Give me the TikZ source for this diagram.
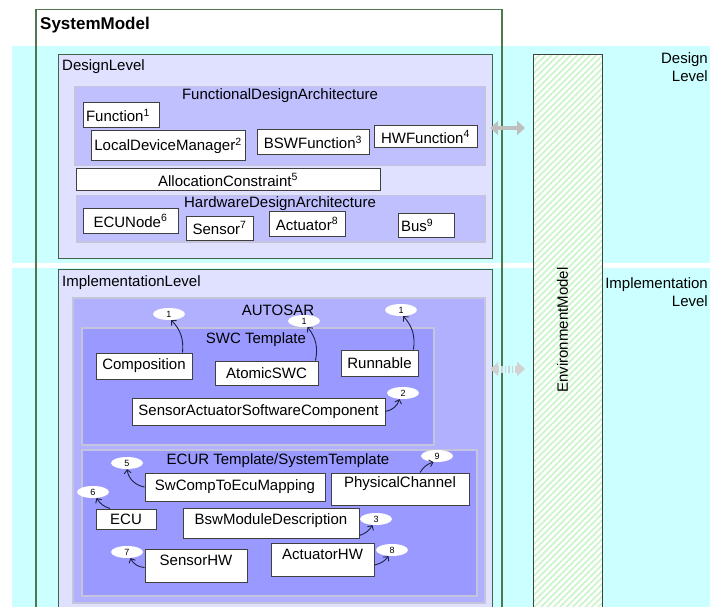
\documentclass[tikz,border=0pt]{standalone}
\usepackage{fontspec}
\setmainfont{Liberation Sans}
\usetikzlibrary{arrows.meta,patterns.meta,shapes.geometric}
\definecolor{bandcyan}{RGB}{204,255,255}
\definecolor{framegreen}{RGB}{80,120,80}
\definecolor{levelgreen}{RGB}{64,100,72}
\definecolor{levelfill}{RGB}{224,224,255}
\definecolor{areagray}{RGB}{196,196,220}
\definecolor{areafill}{RGB}{192,192,255}
\definecolor{autosarfill}{RGB}{176,176,255}
\definecolor{tmplfill}{RGB}{153,153,255}
\definecolor{boxgray}{RGB}{64,64,64}
\definecolor{refnavy}{RGB}{32,32,64}
\definecolor{linkgray}{RGB}{190,190,190}
\definecolor{hatchgreen}{RGB}{200,245,200}
\begin{document}
\begin{tikzpicture}[
        x=1pt, y=-1pt,
        font=\fontsize{15}{18}\selectfont,
        heading/.style={inner sep=0pt},
        level/.style={draw=levelgreen, line width=1.2pt, fill=levelfill, anchor=north west, inner sep=0pt},
        area/.style={draw=areagray, line width=1.5pt, anchor=north west, inner sep=0pt},
        wbox/.style={draw=boxgray, line width=1pt, fill=white, inner sep=1pt},
        lbox/.style={wbox, align=left},
        envbox/.style={draw=boxgray, line width=1pt, preaction={fill=white},
            pattern={Lines[angle=45,distance=4.5pt,line width=1.6pt]}, pattern color=hatchgreen,
            anchor=north west, inner sep=0pt},
        tag/.style={ellipse, fill=white, minimum width=32pt, minimum height=12pt, inner sep=0pt, font=\fontsize{9}{9}\selectfont},
        ref/.style={draw=refnavy, line width=0.9pt, -{Straight Barb[length=3.5pt,width=7pt]}},
        link/.style={draw=linkgray, line width=3.5pt, {Triangle[length=8pt,width=14pt]}-{Triangle[length=8pt,width=14pt]},
            shorten <=-3pt, shorten >=8pt},
        dottedlink/.style={link, draw=linkgray!70, line width=7pt, dash pattern=on 1.5pt off 2pt},
        ]
    \useasboundingbox (0,0) rectangle (710,607);
    \clip (0,0) rectangle (710,607);
    \fill[bandcyan] (12,46) rectangle (710,263);
    \fill[bandcyan] (12,268) rectangle (710,607);
    \node (sysmodel) [draw=framegreen, line width=1.5pt, anchor=north west, minimum width=466, minimum height=620, inner sep=0pt] at (35,9) {};
    \node (sysmodeltitle) [heading, anchor=west, font=\fontsize{17}{17}\selectfont\bfseries] at (40,25) {SystemModel};

    % design level
    \node (design) [level, minimum width=434, minimum height=204] at (58,54) {};
    \node (designtitle) [heading, anchor=west] at (62,67) {DesignLevel};
    \node (fda) [area, fill=areafill, minimum width=410, minimum height=79] at (74,86) {};
    \node (fdatitle) [heading] at (280,96) {FunctionalDesignArchitecture};
    \node (func) [lbox, text width=70, minimum width=76, minimum height=25] at (121,115.5) {Function\textsuperscript{1}};
    \node (ldm) [wbox, minimum width=154, minimum height=30] at (168,146) {LocalDeviceManager\textsuperscript{2}};
    \node (bswf) [wbox, minimum width=112, minimum height=25] at (313,142.5) {BSWFunction\textsuperscript{3}};
    \node (hwf) [wbox, minimum width=103, minimum height=22] at (425.5,137) {HWFunction\textsuperscript{4}};
    \node (alloc) [wbox, minimum width=304, minimum height=22] at (228,180) {AllocationConstraint\textsuperscript{5}};
    \node (hda) [area, fill=areafill, minimum width=408, minimum height=46] at (76,195) {};
    \node (hdatitle) [heading] at (280,204) {HardwareDesignArchitecture};
    \node (ecunode) [wbox, minimum width=95, minimum height=24] at (130.5,221) {ECUNode\textsuperscript{6}};
    \node (sensor) [wbox, minimum width=67, minimum height=24] at (219.5,228) {Sensor\textsuperscript{7}};
    \node (actuator) [wbox, minimum width=76, minimum height=24] at (307,224) {Actuator\textsuperscript{8}};
    \node (bus) [lbox, text width=50, minimum width=56, minimum height=23] at (426,225.5) {Bus\textsuperscript{9}};

    % implementation level
    \node (impl) [level, minimum width=434, minimum height=360] at (58,269) {};
    \node (impltitle) [heading, anchor=west] at (62,283) {ImplementationLevel};
    \node (autosar) [area, fill=autosarfill, minimum width=412, minimum height=305] at (72,297) {};
    \node (autosartitle) [heading] at (278,310) {AUTOSAR};
    \node (swc) [area, fill=tmplfill, minimum width=352, minimum height=117] at (81,327) {};
    \node (swctitle) [heading] at (256,340) {SWC Template};
    \node (comp) [wbox, minimum width=96, minimum height=26] at (144,366) {Composition};
    \node (atomic) [wbox, minimum width=103, minimum height=24] at (266.5,373) {AtomicSWC};
    \node (runnable) [wbox, minimum width=77, minimum height=26] at (379.5,363) {Runnable};
    \node (sasc) [wbox, minimum width=253, minimum height=27] at (258.5,411.5) {SensorActuatorSoftwareComponent};
    \node (ecur) [area, fill=tmplfill, minimum width=395, minimum height=146] at (81,449) {};
    \node (ecurtitle) [heading] at (278,461) {ECUR Template/SystemTemplate};
    \node (swcomp) [wbox, minimum width=180, minimum height=28] at (235,487) {SwCompToEcuMapping};
    \node (phys) [wbox, text depth=14pt, minimum width=138, minimum height=32] at (400,489) {PhysicalChannel};
    \node (ecu) [wbox, minimum width=60, minimum height=20] at (126,519) {ECU};
    \node (bswmod) [wbox, text depth=8pt, minimum width=176, minimum height=30] at (271,523) {BswModuleDescription};
    \node (sensorhw) [wbox, text depth=11pt, minimum width=102, minimum height=33] at (196,565.5) {SensorHW};
    \node (actuatorhw) [wbox, text depth=10pt, minimum width=103, minimum height=33] at (322.5,559.5) {ActuatorHW};

    % mapping tags
    \node (tagcomp) [tag] at (169,314) {1};
    \node (tagatomic) [tag] at (304,321) {1};
    \node (tagrunnable) [tag] at (401,310) {1};
    \node (tagsasc) [tag] at (403,393) {2};
    \node (tagswcomp) [tag] at (127,463) {5};
    \node (tagecu) [tag] at (93,492) {6};
    \node (tagsensorhw) [tag] at (127,552) {7};
    \node (tagphys) [tag] at (437,456) {9};
    \node (tagbswmod) [tag] at (376,519) {3};
    \node (tagactuatorhw) [tag] at (392,550) {8};

    \draw[ref] ([xshift=-10pt]comp.north east) to[bend right=25] (tagcomp.290);
    \draw[ref] ([xshift=-3pt]atomic.north east) to[bend right=25] (tagatomic.300);
    \draw[ref] ([xshift=-5pt]runnable.north east) to[bend right=25] (tagrunnable.290);
    \draw[ref] (sasc.east) to[bend right=30] (tagsasc.240);
    \draw[ref] (swcomp.west) to[bend left=35] (tagswcomp.south);
    \draw[ref] ([xshift=-16pt]ecu.north) to[bend left=20] (tagecu.300);
    \draw[ref] ([yshift=-2pt]sensorhw.west) to[bend left=30] (tagsensorhw.300);
    \draw[ref] ([xshift=20pt]phys.north) to[bend left=20] (tagphys.240);
    \draw[ref] ([yshift=3pt]bswmod.south east) to[bend right=20] (tagbswmod.240);
    \draw[ref] ([yshift=-5.5pt]actuatorhw.east) to[bend right=20] (tagactuatorhw.240);

    % environment
    \node (env) [envbox, minimum width=69, minimum height=570] at (533,54) {};
    \node (envtitle) [heading, rotate=90] at (562.5,330) {EnvironmentModel};
    \node (designlabel) [heading, anchor=north east, align=right] at (708,52) {Design\\Level};
    \node (impllabel) [heading, anchor=north east, align=right] at (708,277) {Implementation\\Level};
    \draw[link] (design.east |- 0,128) -- (env.west |- 0,128);
    \draw[dottedlink] (impl.east |- 0,369) -- (env.west |- 0,369);
\end{tikzpicture}
\end{document}
